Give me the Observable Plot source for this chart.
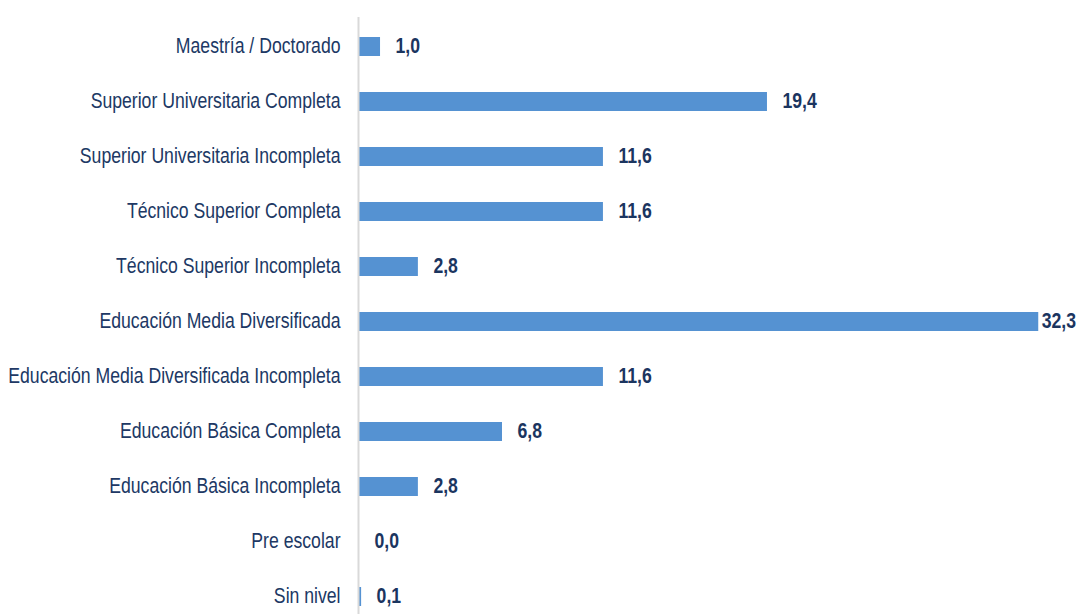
<!DOCTYPE html>
<html>
<head>
<meta charset="utf-8">
<script src="https://cdn.jsdelivr.net/npm/d3@7"></script>
<script src="https://cdn.jsdelivr.net/npm/@observablehq/plot@0.6"></script>
<style>
  html, body { margin: 0; padding: 0; background: #ffffff; }
  #chart { width: 1080px; height: 614px; overflow: hidden; }
</style>
</head>
<body>
<div id="chart"></div>
<script>
const categories = [
  "Maestría / Doctorado",
  "Superior Universitaria Completa",
  "Superior Universitaria Incompleta",
  "Técnico Superior Completa",
  "Técnico Superior Incompleta",
  "Educación Media Diversificada",
  "Educación Media Diversificada Incompleta",
  "Educación Básica Completa",
  "Educación Básica Incompleta",
  "Pre escolar",
  "Sin nivel"
];
const values = [1.0, 19.4, 11.6, 11.6, 2.8, 32.3, 11.6, 6.8, 2.8, 0.0, 0.1];

const data = categories.map((c, i) => ({category: c, value: values[i]}));
const maxValue = d3.max(values);
const fmt = v => v.toFixed(1).replace(".", ",");
const FONT = "'Liberation Sans', Arial, sans-serif";
const NARROW = 0.82; // condense glyphs to mimic Arial Narrow

const chart = Plot.plot({
  width: 1080,
  height: 614,
  marginLeft: 359,
  marginRight: 6,
  marginTop: 17,
  marginBottom: 0,
  style: {fontFamily: FONT, background: "#ffffff"},
  x: {domain: [0, 34], axis: null},
  y: {domain: categories, paddingInner: 0.647, paddingOuter: 0.231, align: 0.716, label: null},
  marks: [
    Plot.barX(data, {y: "category", x: "value", fill: "#5592d2"}),
    Plot.ruleX([0], {stroke: "#d9d9d9", strokeWidth: 2, dx: -1}),
    Plot.axisY({tickSize: 0, tickPadding: 19, dy: -1, fontSize: 21.5, fill: "#203864", label: null}),
    Plot.text(data, {
      filter: d => d.value < maxValue,
      y: "category", x: "value", text: d => fmt(d.value),
      textAnchor: "start", dx: 15, dy: -1, fontSize: 21.5, fontWeight: "bold", fill: "#1b355f"
    }),
    Plot.text(data, {
      filter: d => d.value === maxValue,
      y: "category", x: "value", text: d => fmt(d.value),
      textAnchor: "start", dx: 3, dy: -1, fontSize: 21.5, fontWeight: "bold", fill: "#1b355f"
    })
  ]
});
document.getElementById("chart").appendChild(chart);

// Condense all texts horizontally (narrow font look)
chart.querySelectorAll("text").forEach(t => {
  const len = t.getComputedTextLength();
  if (len > 0) {
    t.setAttribute("textLength", (len * NARROW).toFixed(2));
    t.setAttribute("lengthAdjust", "spacingAndGlyphs");
  }
});
</script>
</body>
</html>
